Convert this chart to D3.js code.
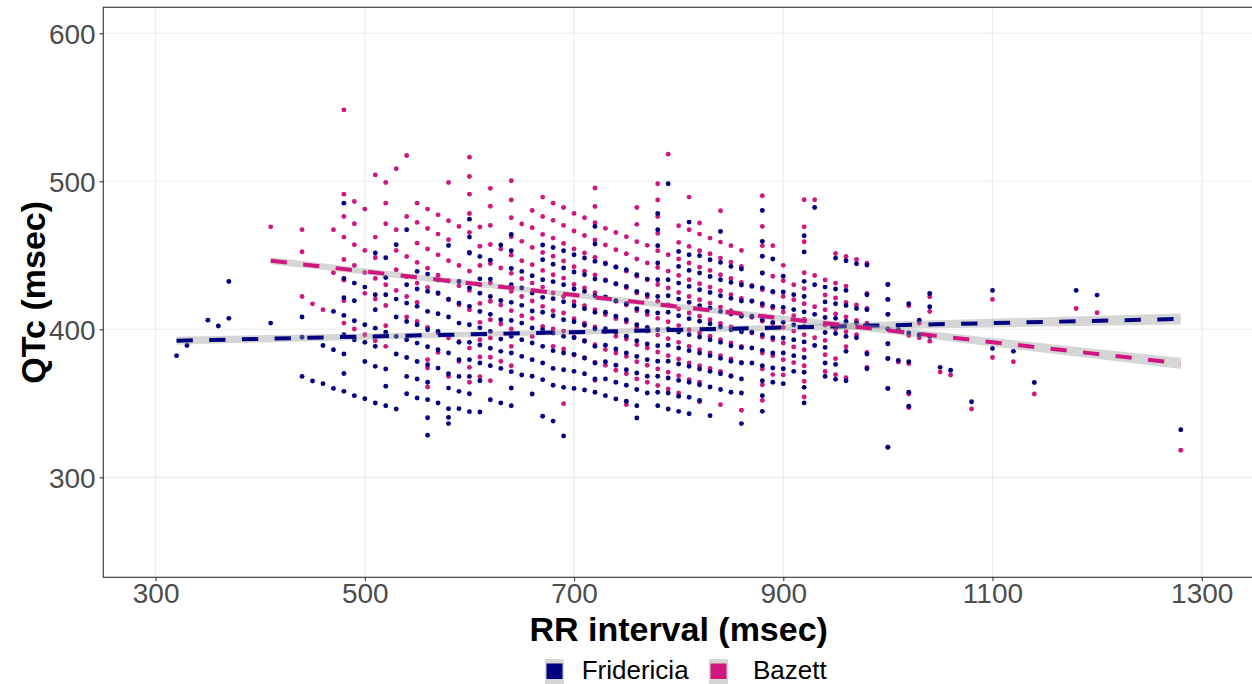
<!DOCTYPE html>
<html><head><meta charset="utf-8">
<script src="https://cdn.jsdelivr.net/npm/d3@7"></script>
<style>html,body{margin:0;padding:0;background:#fff;} svg{display:block;}</style>
</head><body>
<svg id="chart" width="1252" height="684"></svg>
<script>
// ---- data ----
const rrValues = [320,330,350,360,370,410,440,450,460,470,480,490,500,510,520,530,540,550,560,570,580,590,600,610,620,630,640,650,660,670,680,690,700,710,720,730,740,750,760,770,780,790,800,810,820,830,840,850,860,870,880,890,900,910,920,930,940,950,960,970,980,1000,1010,1020,1030,1040,1050,1060,1080,1100,1120,1140,1180,1200,1280];

const fridericia = [
[382.2],[389.1],[406.2],[402.2],[432.3,407.4],[404.2],
[408.3,394.6,368.2],[365.1],[389.1,363.3],[412.1,386.2,360.1],
[485.2,434.4,421.3,409.4,396.4,383.3,370.2,358.1],
[431.2,419.3,405.8,393.0,355.2],
[428.5,403.1,391.2,378.3,353.1],
[451.5,423.3,413.2,400.8,388.5,375.0,350.2],
[448.3,435.0,423.3,398.1,373.2,361.5,348.4],
[457.1,420.4,408.3,395.2,383.3,346.2],
[467.2,430.1,417.7,405.3,393.0,381.0,368.2,356.5],
[439.1,427.2,415.5,403.1,390.7,378.3,366.4,353.6],
[437.3,425.6,412.1,399.7,388.2,376.1,364.2,352.5,340.3,328.4],
[433.5,424.5,410.5,398.6,386.2,373.8,350.2],
[456.6,420.4,408.3,384.0,370.0,360.3,346.4,340.5,336.3],
[432.3,417.7,404.2,391.2,379.5,368.2,358.1,346.4],
[474.4,462.3,451.5,428.0,415.5,403.1,391.2,379.5,368.2,356.5,344.4],
[449.2,434.1,424.4,412.0,401.0,389.4,377.2,365.3,344.2],
[446.6,433.9,422.2,410.1,398.6,387.2,375.4,352.4],
[456.9,419.5,406.5,393.4,385.1,373.6,350.3],
[464.1,453.1,441.1,430.1,418.2,406.0,395.3,384.0,371.4,360.4,348.4],
[439.1,427.9,416.2,404.2,393.0,381.7,369.1],
[436.2,424.5,412.4,400.9,390.8,379.5,368.3,356.3],
[456.9,447.0,433.5,421.6,411.5,399.7,388.5,377.2,366.0,341.3],
[455.3,443.9,432.2,420.7,409.2,397.5,385.6,373.6,362.2,338.0],
[453.1,441.4,430.1,418.6,406.5,395.3,384.0,372.7,360.8,328.0],
[450.4,438.7,427.2,415.9,405.1,394.3,383.1,371.6,360.1],
[448.1,436.9,425.6,413.9,402.7,391.9,380.6,370.0,359.0],
[469.5,457.6,445.9,433.9,422.7,411.5,400.2,388.5,377.2,366.5,357.5],
[444.3,433.0,421.8,411.5,400.4,389.2,378.1,366.5,355.2],
[442.0,430.8,419.3,408.8,398.2,386.7,375.7,364.2,353.0],
[440.2,429.0,417.3,406.5,395.3,384.0,372.7,362.2,351.4],
[436.9,425.6,413.9,403.1,392.3,381.7,370.5,359.3,348.4,340.1],
[433.9,423.4,412.1,401.3,390.1,379.5,368.3,357.0],
[478.3,467.2,456.5,444.8,433.5,422.2,411.0,399.7,388.9,378.4,368.3,357.5,348.4],
[498.3,433.5,422.7,411.5,400.2,389.2,378.4,367.1,357.0,346.2],
[452.6,442.5,431.2,420.4,409.2,398.2,387.4,376.6,365.5,354.8,344.6],
[472.4,450.4,439.8,429.0,418.2,407.2,396.4,385.6,375.0,364.2,354.1,343.0],
[449.7,438.0,426.7,415.9,405.4,394.8,384.0,373.2,362.6,352.0],
[447.0,435.7,424.9,414.4,403.8,393.0,382.2,371.6,361.0,341.7],
[466.1,445.2,433.5,422.7,412.1,401.6,391.2,380.4,370.0,359.3],
[442.5,431.7,420.9,410.3,399.7,388.9,378.4,368.3,357.5],
[440.7,429.9,419.1,408.8,398.4,387.6,377.2,366.5,357.0,336.3],
[429.0,419.1,408.8,398.2,387.4,377.2],
[480.3,459.4,449.3,438.0,427.9,417.3,406.5,396.4,385.8,375.4,365.3,355.2,344.6],
[447.5,425.6,415.5,404.7,394.3,384.0,373.9,364.2],
[435.8,425.2,414.8,404.7,394.1,384.0,373.4,363.3],
[423.4,413.3,402.9,393.0,382.2,371.6],
[463.2,452.3,432.4,422.2,411.8,401.8,391.5,381.0,371.0,360.8,350.3],
[482.3,430.1,410.1,389.1],
[428.5,418.5,408.0,397.8,387.8,377.2,368.2],
[448.1,427.2,417.3,407.4,397.2,376.3,366.2],
[446.3,426.3,416.1,405.3,395.2,385.1,365.3],
[444.3,414.1,404.2,394.3],
[443.4,423.3,413.2,403.1,383.3,373.4],
[430.3,420.2,410.1,400.2,390.2,380.3,360.1,320.3],
[399.7,379.0],
[417.3,397.5,378.1,357.5,348.0],
[406.2,396.3],
[424.2,415.2,395.2],
[374.3],[372.3],[351.1],[426.3,387.1],[385.1],[364.1],[426.3],[423.1],[332.2]
];

const bazett = [
[],[],[],[],[],[469.2],
[467.3,452.4,422.2],[417.2],[413.2],[467.2,438.2],
[548.2,491.3,476.2,462.3,447.2,433.2,419.3,404.2],
[486.3,471.3,457.1,443.1,400.2],
[481.2,453.3,438.4,424.3,396.3],
[504.3,462.3,448.3,434.4,420.4,392.3],
[499.2,485.2,471.3,430.1,416.1,402.4,388.5],
[508.4,467.2,453.3,440.2,426.3],
[517.4,476.2,449.2,435.5,422.2,408.3],
[485.2,472.2,458.2,445.2,431.2,418.2,405.3],
[481.2,468.1,454.2,441.3,428.3,401.3,379.5,373.8,361.0],
[477.3,464.3,450.3,436.6,424.0,397.5,384.4],
[499.2,473.3,460.5,446.3,432.8,420.0,394.1,368.2],
[469.5,443.1,429.4,416.6,391.8,378.3],
[516.3,503.2,491.3,478.2,465.4,452.1,439.3,426.3,413.2,387.3,374.3,364.2],
[469.1,456.1,443.1,430.0,417.5,404.7,393.0,381.3,368.0],
[495.2,483.1,470.2,457.3,444.4,431.3,419.0,406.5,394.1,381.1,365.3],
[454.2,441.4,416.4,403.6,378.4],
[500.3,487.3,475.4,462.5,450.1,437.8,425.6,412.6,400.2,388.5,375.4],
[471.1,459.4,446.3,434.2,422.2,409.2],
[480.3,468.6,455.3,443.6,431.2,419.1,407.4,395.2],
[489.3,476.2,464.1,451.9,439.8,428.5,415.5,402.0],
[485.2,473.6,461.6,449.3,436.9,424.5,412.6,400.2,388.5],
[482.3,470.2,458.0,446.1,434.6,422.2,411.0,398.8,386.7,349.8],
[478.3,466.4,454.2,442.3,430.3,418.6,407.2,394.8,382.6],
[475.4,463.4,451.5,439.3,427.9,415.9,404.2,392.5,380.6],
[495.4,483.0,472.0,460.3,448.6,436.7,424.7,413.3,401.6,389.6,377.7,365.5],
[468.2,456.9,444.8,433.3,421.4,409.9,398.4,386.3,375.7],
[465.4,453.7,442.3,430.6,418.9,407.2,395.3,384.0,372.3],
[462.5,451.0,439.3,428.1,416.4,404.9,393.4,381.7,370.0,349.1],
[482.3,470.9,459.2,447.5,435.8,424.5,412.6,400.9,389.6,378.1,366.5],
[456.7,444.8,433.5,421.8,409.9,398.8,387.4,375.7,364.2],
[498.3,487.3,476.2,464.8,453.1,441.8,430.3,418.9,407.4,396.1,384.7,373.2,362.0],
[518.3,450.4,439.3,427.9,416.4,405.1,393.7,382.2,371.0,359.7],
[470.0,458.7,447.5,436.4,424.9,413.7,402.5,391.2,379.9,368.7,357.0],
[489.3,467.2,456.0,444.8,433.5,422.2,411.0,399.7,388.5,377.2,366.0],
[471.8,464.3,453.1,442.0,430.8,420.0,408.8,397.5,386.3,375.4,364.2,351.1],
[461.6,451.0,439.8,428.5,417.7,406.5,395.3,384.0,373.6],
[480.1,458.9,448.1,436.9,426.1,415.0,404.0,393.0,382.2,371.6,349.1],
[456.5,445.4,434.4,423.4,412.6,401.6,390.8,379.9,368.7],
[453.3,442.5,431.7,420.9,409.9,399.3,388.5,377.7,345.3],
[429.7,418.9,408.1,397.5],
[490.2,469.5,456.5,438.0,426.7,415.9,405.4,394.8,384.0,373.2,362.6,352.0],
[456.5,435.8,425.0,414.4,403.8,393.0,382.2,369.4],
[443.2,432.8,422.2,411.7,401.3,390.8,379.5,369.2],
[430.1,420.0,409.2,398.8,388.1,377.5],
[487.5,469.2,459.1,438.2,427.5,417.3,406.8,396.3,386.2,375.4,364.9,354.3],
[487.5,436.3,415.2,394.3],
[433.3,423.2,413.2,402.8,392.5,382.9,371.5],
[451.2,431.2,421.1,410.3,400.4,380.1,369.3],
[449.2,429.2,418.2,408.3,398.4,388.2,367.3],
[447.2,416.4,406.0,396.3],
[444.7,424.2,414.1,404.2,384.4,374.3],
[430.3,420.2,410.1,400.2,390.2,380.3,360.1,320.3],
[399.4,377.9],
[415.9,395.9,376.8,356.3,347.1],
[404.2,394.3],
[422.0,412.1,392.0],
[371.1],[369.1],[346.2],[420.2,381.0],[378.1],[356.3],[414.1],[411.2],[318.3]
];

// linear fits with confidence band
const fitFridericiaRR = [320, 500, 700, 900, 1100, 1280];
const fitFridericia   = [392.3, 395.1, 398.1, 401.2, 404.2, 407.0];
const bandFridericia  = [2.8, 2.1, 1.8, 2.1, 2.9, 3.7];
const fitBazettRR = [410, 500, 700, 900, 1100, 1280];
const fitBazett   = [446.3, 439.1, 423.2, 407.3, 391.3, 377.0];
const bandBazett  = [2.4, 2.1, 1.8, 2.1, 2.9, 3.8];

const xTicks = [300, 500, 700, 900, 1100, 1300];
const yTicks = [300, 400, 500, 600];
const seriesNames = ["Fridericia", "Bazett"];
const seriesColors = ["#000080", "#d0177f"];

// ---- drawing ----
const svg = d3.select("#chart");
const W = 1252, H = 684;
const pL = 103.3, pR = 1254, pT = 7.3, pB = 577.3;
const x = d3.scaleLinear().domain([250, 1350]).range([pL, pR]);
const y = d3.scaleLinear().domain([232.5, 617.5]).range([pB, pT]);
const FONT = "'Liberation Sans', Arial, Helvetica, sans-serif";

svg.append("rect").attr("width", W).attr("height", H).attr("fill", "#fff");
svg.append("defs").append("clipPath").attr("id", "clip")
  .append("rect").attr("x", pL).attr("y", pT).attr("width", pR - pL).attr("height", pB - pT);

// grid
const grid = svg.append("g");
grid.selectAll("line.gx").data(xTicks).join("line")
  .attr("x1", d => x(d)).attr("x2", d => x(d)).attr("y1", pT).attr("y2", pB)
  .attr("stroke", "#ebebeb").attr("stroke-width", 1.1);
grid.selectAll("line.gy").data(yTicks).join("line")
  .attr("x1", pL).attr("x2", pR).attr("y1", d => y(d)).attr("y2", d => y(d))
  .attr("stroke", "#ebebeb").attr("stroke-width", 1.1);

// points
function flatten(vals) {
  const out = [];
  rrValues.forEach((rr, i) => vals[i].forEach(v => out.push({rr, v})));
  return out;
}
const plot = svg.append("g").attr("clip-path", "url(#clip)");
plot.append("g").selectAll("circle").data(flatten(bazett)).join("circle")
  .attr("cx", d => x(d.rr)).attr("cy", d => y(d.v)).attr("r", 2.45).attr("fill", seriesColors[1]);
plot.append("g").selectAll("circle").data(flatten(fridericia)).join("circle")
  .attr("cx", d => x(d.rr)).attr("cy", d => y(d.v)).attr("r", 2.45).attr("fill", seriesColors[0]);

// smooths
function smooth(rrs, fit, band, color) {
  const pts = rrs.map((r, i) => ({r, f: fit[i], b: band[i]}));
  const area = d3.area().x(d => x(d.r)).y0(d => y(d.f - d.b)).y1(d => y(d.f + d.b)).curve(d3.curveMonotoneX);
  plot.append("path").attr("d", area(pts)).attr("fill", "#999999").attr("fill-opacity", 0.4);
  const line = d3.line().x(d => x(d.r)).y(d => y(d.f));
  plot.append("path").attr("d", line(pts)).attr("fill", "none").attr("stroke", color)
    .attr("stroke-width", 4).attr("stroke-dasharray", "16.3 16.4");
}
smooth(fitFridericiaRR, fitFridericia, bandFridericia, seriesColors[0]);
smooth(fitBazettRR, fitBazett, bandBazett, seriesColors[1]);

// panel border
svg.append("rect").attr("x", pL).attr("y", pT).attr("width", pR - pL).attr("height", pB - pT)
  .attr("fill", "none").attr("stroke", "#333333").attr("stroke-width", 1.1);

// axes
const xAxis = svg.append("g").attr("transform", `translate(0,${pB})`)
  .call(d3.axisBottom(x).tickValues(xTicks).tickSize(3.7).tickPadding(2.5).tickFormat(d3.format("d")));
const yAxis = svg.append("g").attr("transform", `translate(${pL},0)`)
  .call(d3.axisLeft(y).tickValues(yTicks).tickSize(3.7).tickPadding(4).tickFormat(d3.format("d")));
[xAxis, yAxis].forEach(a => {
  a.select(".domain").remove();
  a.selectAll(".tick line").attr("stroke", "#333333").attr("stroke-width", 1.1);
  a.selectAll(".tick text").attr("fill", "#4d4d4d").style("font-family", FONT).style("font-size", "28px");
});
yAxis.selectAll(".tick text").attr("dy", "0.36em");

// titles
svg.append("text").attr("x", (pL + pR) / 2).attr("y", 640.5).attr("text-anchor", "middle")
  .style("font-family", FONT).style("font-size", "34px").style("font-weight", "bold").attr("fill", "#000")
  .text("RR interval (msec)");
svg.append("text").attr("transform", `translate(45,${(pT + pB) / 2}) rotate(-90)`).attr("text-anchor", "middle")
  .style("font-family", FONT).style("font-size", "34px").style("font-weight", "bold").attr("fill", "#000")
  .text("QTc (msec)");

// legend
const legend = svg.append("g");
const keyX = [545, 709], textX = [581.7, 753];
seriesNames.forEach((name, i) => {
  legend.append("rect").attr("x", keyX[i]).attr("y", 659).attr("width", 19).attr("height", 25).attr("fill", "#d6d6d6");
  legend.append("rect").attr("x", keyX[i] + 1.5).attr("y", 663.5).attr("width", 16).attr("height", 15.5).attr("fill", seriesColors[i]);
  legend.append("text").attr("x", textX[i]).attr("y", 678.5)
    .style("font-family", FONT).style("font-size", "26px").attr("fill", "#000").text(name);
});
</script>
</body></html>
